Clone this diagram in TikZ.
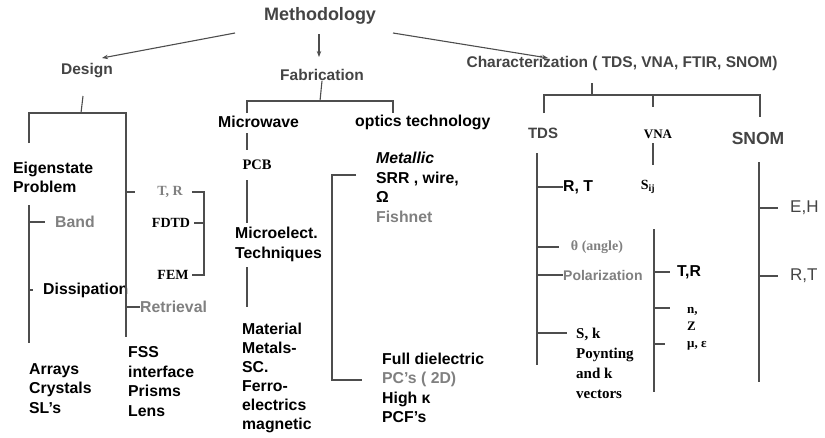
\documentclass[tikz,border=0pt]{standalone}
\usepackage{fontspec}
\setmainfont{Liberation Serif}
\setsansfont{Liberation Sans}
\usetikzlibrary{arrows.meta}
\definecolor{linegray}{HTML}{4D4D4D}
\definecolor{headgray}{HTML}{444444}
\definecolor{softgray}{HTML}{808080}
\begin{document}
\begin{tikzpicture}[x=1pt, y=-1pt,
  line/.style={draw=linegray, line width=1.1pt},
  arr/.style={line, -{Stealth[length=6pt, width=4.5pt]}},
  head/.style={inner sep=0pt, text=headgray, font=\sffamily\bfseries\fontsize{15.5}{19}\selectfont},
  item/.style={inner sep=0pt, anchor=west, align=left, font=\sffamily\bfseries\fontsize{15.8}{19.5}\selectfont},
  pale/.style={item, text=softgray},
  tnr/.style={inner sep=0pt, font=\rmfamily\bfseries\fontsize{14}{20}\selectfont},
  snomtxt/.style={inner sep=0pt, anchor=west, text=headgray, font=\sffamily\fontsize{17}{20}\selectfont},
]
\useasboundingbox (0,0) rectangle (825,437);

% top level
\node [head, font=\sffamily\bfseries\fontsize{18}{22}\selectfont] (meth) at (320,16) {Methodology};
\node [head] (design) at (87,71) {Design};
\node [head] (fab) at (322,75) {Fabrication};
\node [head] (char) at (622,63) {Characterization ( TDS, VNA, FTIR, SNOM)};
\coordinate (a1) at (235,33);
\coordinate (a2) at (102,58);
\coordinate (a3) at (319,34);
\coordinate (a4) at (319,57);
\coordinate (a5) at (393,33);
\coordinate (a6) at (548,58);
\draw [arr] (a1) -- (a2);
\draw [arr] (a3) -- (a4);
\draw [arr] (a5) -- (a6);

% design
\node [item] (eig) at (13,177.5) {Eigenstate\\Problem};
\node [pale] (band) at (55,222) {Band};
\node [item] (diss) at (43,290) {Dissipation};
\node [item] (arrays) at (29,388.5) {Arrays\\Crystals\\SL's};
\node [tnr, text=softgray] (tr) at (170,192) {T, R};
\node [tnr] (fdtd) at (171,223) {FDTD};
\node [tnr] (fem) at (173,275) {FEM};
\node [pale] (retr) at (140,307) {Retrieval};
\node [item] (fss) at (128,381.5) {FSS\\interface\\Prisms\\Lens};
\coordinate (dtop) at (83,96);
\coordinate (dmid) at (81,113);
\coordinate (dl1) at (29,113);
\coordinate (dl2) at (29,143);
\coordinate (dl3) at (29,205);
\coordinate (dl4) at (29,343);
\coordinate (dr1) at (126,113);
\coordinate (dr2) at (126,337);
\coordinate (fb1) at (204,192);
\coordinate (fb2) at (204,275);
\draw [line] (dtop) -- (dmid);
\draw [line] (dl2) -- (dl1) -- (dr1) -- (dr2);
\draw [line] (dl3) -- (dl4);
\draw [line] (dl3 |- band) -- ([xshift=-10pt]band.west);
\draw [line] (dl3 |- diss) -- ([xshift=-10pt]diss.west);
\draw [line] (dr1 |- tr) -- ([xshift=-22pt]tr.west);
\draw [line] ([xshift=9pt]tr.east) -- (fb1) -- (fb2) -- ([xshift=3pt]fem.east);
\draw [line] ([xshift=4pt]fdtd.east) -- (fdtd -| fb1);
\draw [line] (dr1 |- retr) -- (retr.west);

% fabrication
\node [item] (mw) at (218,122) {Microwave};
\node [item] (optics) at (355,122) {optics technology};
\node [tnr, font=\rmfamily\bfseries\fontsize{14.5}{20}\selectfont] (pcb) at (257,165) {PCB};
\node [item] (micro) at (235,244.5) {Microelect.\\Techniques};
\node [item, font=\sffamily\bfseries\fontsize{15.8}{19}\selectfont] (mat) at (242,377.5) {Material\\Metals-\\SC.\\Ferro-\\electrics\\magnetic};
\node [item] (metal) at (376,187.5) {\textit{Metallic}\\SRR , wire,\\Ω\\\textcolor{softgray}{Fishnet}};
\node [item] (diel) at (382,388) {Full dielectric\\\textcolor{softgray}{PC's ( 2D)}\\High κ\\PCF's};
\coordinate (fs) at (320,101);
\coordinate (fl) at (247,101);
\coordinate (fr) at (393,101);
\coordinate (fl2) at (247,113);
\coordinate (fr2) at (393,113);
\coordinate (m1) at (247,133);
\coordinate (m2) at (247,150);
\coordinate (m3) at (247,180);
\coordinate (m4) at (247,223);
\coordinate (m5) at (247,267);
\coordinate (m6) at (247,307);
\coordinate (o1) at (356,175);
\coordinate (o2) at (332,175);
\coordinate (o3) at (332,380);
\coordinate (o4) at (362,380);
\draw [line] (fab.south) -- (fs);
\draw [line] (fl2) -- (fl) -- (fr) -- (fr2);
\draw [line] (m1) -- (m2);
\draw [line] (m3) -- (m4);
\draw [line] (m5) -- (m6);
\draw [line] (o1) -- (o2) -- (o3) -- (o4);

% characterization
\node [head, font=\sffamily\bfseries\fontsize{15}{18}\selectfont] (tds) at (543,133) {TDS};
\node [tnr, font=\rmfamily\bfseries\fontsize{13}{16}\selectfont] (vna) at (658,134) {VNA};
\node [head, font=\sffamily\bfseries\fontsize{17.5}{20}\selectfont] (snom) at (758,138) {SNOM};
\node [item] (rt) at (563,187) {R, T};
\node [tnr, text=softgray] (theta) at (597,247) {θ (angle)};
\node [pale, font=\sffamily\bfseries\fontsize{14}{18}\selectfont] (pol) at (563,275) {Polarization};
\node [tnr, anchor=west, align=left, font=\rmfamily\bfseries\fontsize{15}{20}\selectfont] (sk) at (576,363) {S, k\\Poynting\\and k\\vectors};
\node [tnr] (sij) at (648,187) {S\textsubscript{ij}};
\node [item] (tr2) at (677,272) {T,R};
\node [tnr, anchor=west, align=left, font=\rmfamily\bfseries\fontsize{13}{17}\selectfont] (nz) at (687,329) {n,\\Z\\μ, ε};
\node [snomtxt] (eh) at (790,208) {E,H};
\node [snomtxt] (rt2) at (790,276) {R,T};
\coordinate (cs1) at (592,83);
\coordinate (cs2) at (592,95);
\coordinate (cl) at (544,95);
\coordinate (cl2) at (544,113);
\coordinate (cm) at (653,95);
\coordinate (cm2) at (653,107);
\coordinate (cr) at (760,95);
\coordinate (cr2) at (760,117);
\coordinate (t1) at (537,153);
\coordinate (t2) at (537,365);
\coordinate (skt) at (567,333);
\coordinate (v1) at (653,143);
\coordinate (v2) at (653,165);
\coordinate (v3) at (654,229);
\coordinate (v4) at (654,392);
\coordinate (nt1) at (670,308);
\coordinate (nt2) at (665,344);
\coordinate (s1) at (759,162);
\coordinate (s2) at (759,382);
\draw [line] (cs1) -- (cs2);
\draw [line] (cl2) -- (cl) -- (cr) -- (cr2);
\draw [line] (cm) -- (cm2);
\draw [line] (t1) -- (t2);
\draw [line] (t1 |- rt) -- (rt.west);
\draw [line] (t1 |- theta) -- ([xshift=-12pt]theta.west);
\draw [line] (t1 |- pol) -- (pol.west);
\draw [line] (t1 |- skt) -- (skt);
\draw [line] (v1) -- (v2);
\draw [line] (v3) -- (v4);
\draw [line] (v3 |- tr2) -- ([xshift=-7pt]tr2.west);
\draw [line] (v3 |- nt1) -- (nt1);
\draw [line] (v3 |- nt2) -- (nt2);
\draw [line] (s1) -- (s2);
\draw [line] (s1 |- eh) -- ([xshift=-12pt]eh.west);
\draw [line] (s1 |- rt2) -- ([xshift=-12pt]rt2.west);
\end{tikzpicture}
\end{document}
